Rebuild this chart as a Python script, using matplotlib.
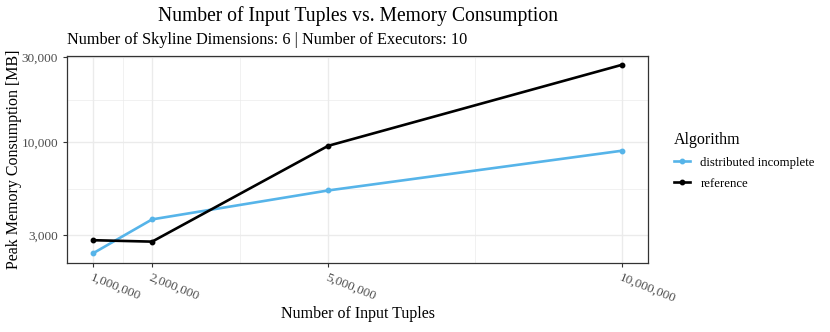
import matplotlib
matplotlib.use("Agg")
import matplotlib.pyplot as plt
from matplotlib.ticker import FixedLocator, FuncFormatter, NullFormatter
import numpy as np

plt.rcParams['font.family'] = ['Liberation Serif', 'DejaVu Serif']

tuples = [1_000_000, 2_000_000, 5_000_000, 10_000_000]
dist_incomplete = [2372, 3673, 5345, 8944]
reference = [2803, 2752, 9536, 27240]
series_names = ["distributed incomplete", "reference"]
series_colors = ["#56B4E9", "#000000"]
x_ticks = [1_000_000, 2_000_000, 5_000_000, 10_000_000]
x_minor = [1_500_000, 3_500_000, 7_500_000]
y_ticks = [3000, 10000, 30000]
y_minor = [float(np.sqrt(3000 * 10000)), float(np.sqrt(10000 * 30000))]

W, H = 830, 332
fig = plt.figure(figsize=(W / 100, H / 100), dpi=100)
left, right, top, bottom = 67, 648, 55.5, 262.5
ax = fig.add_axes([left / W, 1 - bottom / H, (right - left) / W, (bottom - top) / H])

for vals, name, col in zip([dist_incomplete, reference], series_names, series_colors):
    ax.plot(tuples, vals, color=col, lw=1.9, marker='o', ms=3.2, label=name, zorder=3)

ax.set_yscale('log')
ax.margins(x=0.05, y=0.05)
ax.xaxis.set_major_locator(FixedLocator(x_ticks))
ax.xaxis.set_minor_locator(FixedLocator(x_minor))
ax.yaxis.set_major_locator(FixedLocator(y_ticks))
ax.yaxis.set_minor_locator(FixedLocator(y_minor))
ax.yaxis.set_minor_formatter(NullFormatter())
ax.xaxis.set_major_formatter(FuncFormatter(lambda v, p: f"{int(round(v)):,}"))
ax.yaxis.set_major_formatter(FuncFormatter(lambda v, p: f"{int(round(v)):,}"))

ax.grid(which='major', color='#EBEBEB', lw=1.0, zorder=0)
ax.grid(which='minor', color='#EBEBEB', lw=0.5, zorder=0)
ax.set_axisbelow(True)
for s in ax.spines.values():
    s.set_color('#333333')
    s.set_linewidth(0.9)
ax.tick_params(which='major', length=3, width=0.8, color='#333333', labelcolor='#4D4D4D', labelsize=9.5)
ax.tick_params(which='minor', length=0)
for lab in ax.get_xticklabels():
    lab.set_rotation(-22)
    lab.set_ha('left')
    lab.set_va('top')
    lab.set_rotation_mode('anchor')

fig.text((left + right) / 2 / W, 1 - 314 / H, "Number of Input Tuples",
         ha='center', va='center', fontsize=11.5)
fig.text(14 / W, 1 - (top + bottom) / 2 / H, "Peak Memory Consumption [MB]",
         ha='center', va='center', rotation=90, fontsize=11.5)

fig.text((left + right) / 2 / W, 1 - 16 / H, "Number of Input Tuples vs. Memory Consumption",
         ha='center', va='center', fontsize=14.1)
fig.text(left / W, 1 - 40 / H, "Number of Skyline Dimensions: 6 | Number of Executors: 10",
         ha='left', va='center', fontsize=11.7)

leg = ax.legend(loc='upper left', bbox_to_anchor=(662 / W, 1 - 120 / H), bbox_transform=fig.transFigure,
                frameon=False, title="Algorithm", fontsize=9.2, title_fontsize=11.5,
                handlelength=1.3, handletextpad=0.8, labelspacing=0.72)
leg._legend_box.align = "left"

fig.savefig("out.png", dpi=100)
